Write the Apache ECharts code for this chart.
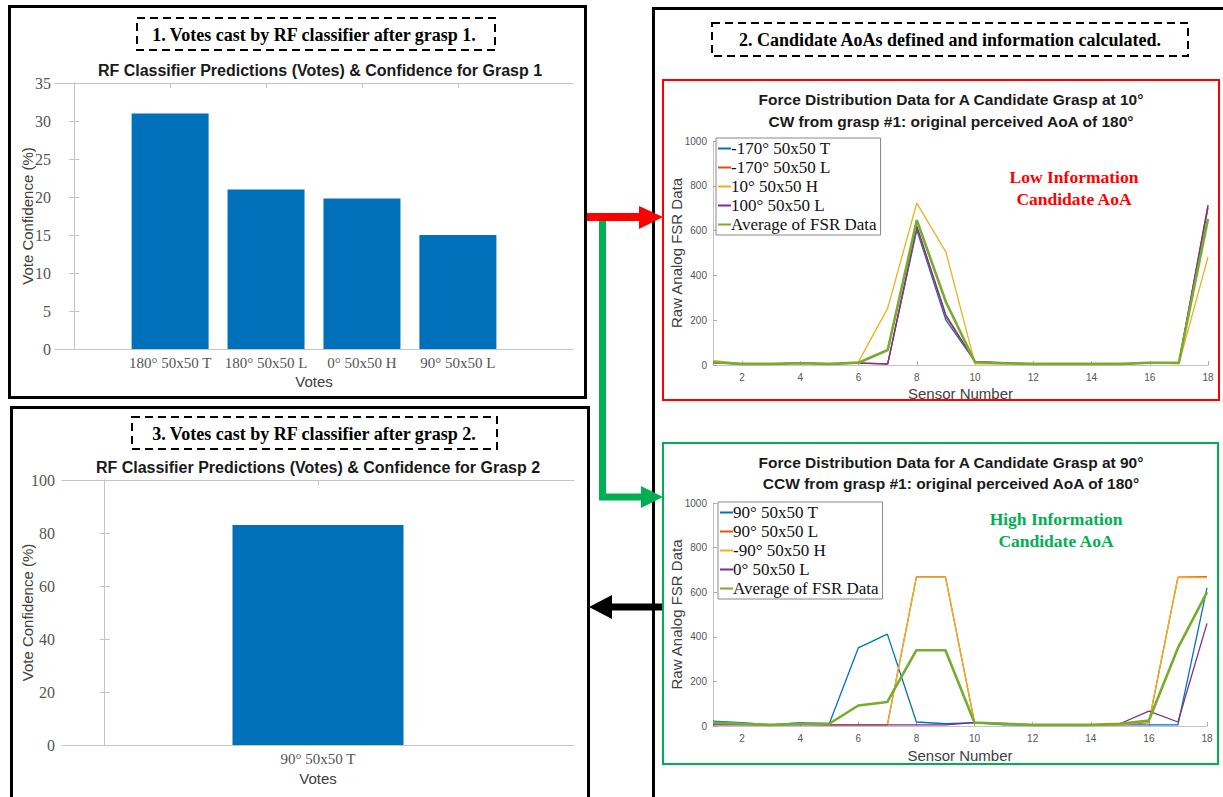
<!DOCTYPE html>
<html>
<head>
<meta charset="utf-8">
<script src="https://cdn.jsdelivr.net/npm/echarts@6/dist/echarts.min.js"></script>
<style>
html,body{margin:0;padding:0;background:#fff;}
#chart{width:1223px;height:797px;}
</style>
</head>
<body>
<div id="chart"></div>
<script>
// ---- Data ----
const voteCats1 = ['180° 50x50 T', '180° 50x50 L', '0° 50x50 H', '90° 50x50 L'];
const voteConf1 = [31, 21, 19.8, 15];
const voteTicks1 = [0, 5, 10, 15, 20, 25, 30, 35];

const voteCats2 = ['90° 50x50 T'];
const voteConf2 = [83];
const voteTicks2 = [0, 20, 40, 60, 80, 100];

const sensors = [1, 2, 3, 4, 5, 6, 7, 8, 9, 10, 11, 12, 13, 14, 15, 16, 17, 18];

const cwNames = ['-170° 50x50 T', '-170° 50x50 L', '10° 50x50 H', '100° 50x50 L', 'Average of FSR Data'];
const cw170T = [10, 5, 5, 8, 5, 8, 5, 603, 200, 15, 8, 5, 5, 5, 5, 8, 10, 700];
const cw170L = [12, 5, 5, 8, 5, 8, 5, 615, 215, 15, 8, 5, 5, 5, 5, 8, 10, 715];
const cw10H = [20, 5, 5, 10, 5, 15, 254, 723, 504, 5, 5, 5, 5, 5, 5, 8, 5, 482];
const cw100L = [10, 5, 5, 8, 5, 8, 5, 620, 223, 15, 10, 5, 5, 5, 5, 10, 10, 710];
const cwAvg = [12, 5, 5, 8, 5, 10, 67, 647, 281, 12, 8, 5, 5, 5, 5, 10, 10, 652];

const ccwNames = ['90° 50x50 T', '90° 50x50 L', '-90° 50x50 H', '0° 50x50 L', 'Average of FSR Data'];
const ccw90T = [22, 15, 5, 15, 10, 350, 412, 18, 10, 15, 5, 5, 5, 5, 5, 5, 5, 619];
const ccw90L = [10, 8, 5, 8, 5, 5, 5, 669, 669, 15, 12, 5, 5, 5, 5, 15, 668, 670];
const ccwM90H = [10, 8, 5, 8, 5, 5, 5, 668, 668, 15, 12, 5, 5, 5, 5, 20, 665, 666];
const ccw0L = [5, 5, 5, 5, 5, 5, 5, 5, 5, 15, 8, 5, 5, 5, 10, 67, 18, 460];
const ccwAvg = [15, 10, 5, 10, 10, 92, 108, 340, 340, 15, 10, 5, 5, 5, 10, 25, 350, 600];

const fsrTicks = [0, 200, 400, 600, 800, 1000];

// ---- Styles ----
const lineColors = ['#0072BD', '#D95319', '#EDB120', '#7E2F8E', '#77AC30'];
const barColor = '#0070BA';
const axisGrey = '#c4c4c4';
const labelGrey = '#555';
const sans = 'Liberation Sans, Arial, sans-serif';
const serif = 'Liberation Serif, serif';

const chart = echarts.init(document.getElementById('chart'), null, {renderer: 'svg'});

function barX(grid, cats, min, max, top, gap) {
  const pos = cats.map((_, i) => i + 1);
  return {
    type: 'value', gridIndex: grid, min: min, max: max, position: top ? 'top' : 'bottom',
    axisLine: {show: true, onZero: false, lineStyle: {color: axisGrey, width: 1}},
    axisTick: {show: true, inside: true, length: 5, customValues: pos, lineStyle: {color: axisGrey}},
    axisLabel: top ? {show: false} : {
      show: true, customValues: pos, margin: 6,
      formatter: v => cats[Math.round(v) - 1] || '',
      fontFamily: serif, fontSize: 15, color: labelGrey
    },
    splitLine: {show: false},
    name: top ? '' : 'Votes', nameLocation: 'middle', nameGap: gap, nameMoveOverlap: false,
    nameTextStyle: {fontFamily: sans, fontSize: 15, color: '#404040'}
  };
}
function barY(grid, ticks, right, margin, gap) {
  return {
    type: 'value', gridIndex: grid, min: ticks[0], max: ticks[ticks.length - 1],
    interval: ticks[1] - ticks[0], position: right ? 'right' : 'left',
    axisLine: {show: true, lineStyle: {color: axisGrey, width: 1}},
    axisTick: {show: true, inside: true, length: 5, lineStyle: {color: axisGrey}},
    axisLabel: right ? {show: false} : {show: true, margin: margin, fontFamily: serif, fontSize: 16, color: labelGrey},
    splitLine: {show: false},
    name: right ? '' : 'Vote Confidence (%)', nameLocation: 'middle', nameGap: gap, nameMoveOverlap: false,
    nameTextStyle: {fontFamily: sans, fontSize: 15, color: '#404040'}
  };
}
function lineX(grid, gap) {
  return {
    type: 'category', gridIndex: grid, data: sensors, boundaryGap: false,
    axisLine: {show: true, lineStyle: {color: axisGrey, width: 1}},
    axisTick: {show: true, inside: true, length: 4, interval: (i, v) => Number(v) % 2 === 0, lineStyle: {color: '#aaa'}},
    axisLabel: {show: true, interval: (i, v) => Number(v) % 2 === 0, margin: 7, fontFamily: sans, fontSize: 10, color: labelGrey},
    splitLine: {show: false},
    name: 'Sensor Number', nameLocation: 'middle', nameGap: gap, nameMoveOverlap: false,
    nameTextStyle: {fontFamily: sans, fontSize: 15, color: '#404040'}
  };
}
function lineY(grid) {
  return {
    type: 'value', gridIndex: grid, min: fsrTicks[0], max: fsrTicks[fsrTicks.length - 1],
    interval: fsrTicks[1] - fsrTicks[0],
    axisLine: {show: true, lineStyle: {color: axisGrey, width: 1}},
    axisTick: {show: true, inside: true, length: 4, lineStyle: {color: '#aaa'}},
    axisLabel: {show: true, margin: 6, fontFamily: sans, fontSize: 10, color: labelGrey, formatter: v => String(v)},
    splitLine: {show: false},
    name: 'Raw Analog FSR Data', nameLocation: 'middle', nameGap: 29, nameMoveOverlap: false,
    nameTextStyle: {fontFamily: sans, fontSize: 15, color: '#404040'}
  };
}
function lineSeries(name, data, idx, axis) {
  return {
    type: 'line', name: name, data: data, xAxisIndex: axis, yAxisIndex: axis,
    symbol: 'none', silent: true, animation: false,
    lineStyle: {color: lineColors[idx], width: idx === 4 ? 2.6 : 1.3},
    itemStyle: {color: lineColors[idx]}, z: 2 + idx
  };
}
function legend(names, left, top) {
  return {
    data: names, orient: 'vertical', left: left, top: top,
    icon: 'rect', itemWidth: 13, itemHeight: 2, itemGap: 2,
    padding: [2, 4, 2, 2],
    backgroundColor: '#fff', borderColor: '#888', borderWidth: 1,
    textStyle: {fontFamily: serif, fontSize: 17, color: '#111', padding: [0, 0, 0, -5]},
    selectedMode: false, z: 10
  };
}
function gText(text, x, y, font, fill, extra) {
  return {
    type: 'text', x: x, y: y, z: 20,
    style: Object.assign({
      text: text, fill: fill, align: 'center', verticalAlign: 'middle',
      textAlign: 'center', textVerticalAlign: 'middle',
      fontFamily: font.family, fontSize: font.size, fontWeight: font.weight
    }, extra || {})
  };
}
const stepFont = {family: serif, size: 18, weight: 'bold'};
const barTitleFont = {family: sans, size: 16, weight: 'bold'};
const lineTitleFont = {family: sans, size: 15.5, weight: 'bold'};
const annFont = {family: serif, size: 17.5, weight: 'bold'};

const option = {
  backgroundColor: '#fff',
  animation: false,
  grid: [
    {left: 55, top: 83, width: 518, height: 266},
    {left: 62, top: 480, width: 512, height: 265},
    {left: 713, top: 141, width: 495, height: 224},
    {left: 713, top: 503, width: 494, height: 223}
  ],
  xAxis: [
    barX(0, voteCats1, -0.2, voteCats1.length + 1.2, false, 25),
    barX(0, voteCats1, -0.2, voteCats1.length + 1.2, true, 0),
    barX(1, voteCats2, -0.2, voteCats2.length + 1.2, false, 26),
    barX(1, voteCats2, -0.2, voteCats2.length + 1.2, true, 0),
    lineX(2, 21),
    lineX(3, 22)
  ],
  yAxis: [
    barY(0, voteTicks1, false, 4, 20),
    barY(0, voteTicks1, true, 0, 0),
    barY(1, voteTicks2, false, 7, 27),
    barY(1, voteTicks2, true, 0, 0),
    lineY(2),
    lineY(3)
  ],
  legend: [legend(cwNames, 716, 138), legend(ccwNames, 718, 502)],
  series: [
    {type: 'bar', name: 'Grasp 1 votes', data: voteConf1.map((v, i) => [i + 1, v]), xAxisIndex: 0, yAxisIndex: 0,
     barWidth: 77, itemStyle: {color: barColor}, silent: true},
    {type: 'bar', name: 'Grasp 2 votes', data: voteConf2.map((v, i) => [i + 1, v]), xAxisIndex: 2, yAxisIndex: 2,
     barWidth: 171, itemStyle: {color: barColor}, silent: true},
    lineSeries(cwNames[0], cw170T, 0, 4),
    lineSeries(cwNames[1], cw170L, 1, 4),
    lineSeries(cwNames[2], cw10H, 2, 4),
    lineSeries(cwNames[3], cw100L, 3, 4),
    lineSeries(cwNames[4], cwAvg, 4, 4),
    lineSeries(ccwNames[0], ccw90T, 0, 5),
    lineSeries(ccwNames[1], ccw90L, 1, 5),
    lineSeries(ccwNames[2], ccwM90H, 2, 5),
    lineSeries(ccwNames[3], ccw0L, 3, 5),
    lineSeries(ccwNames[4], ccwAvg, 4, 5)
  ],
  graphic: [
    // panel frames
    {type: 'rect', shape: {x: 9.5, y: 6.5, width: 576, height: 391}, style: {fill: null, stroke: '#000', lineWidth: 3}, z: 1},
    {type: 'rect', shape: {x: 11.5, y: 407.5, width: 577, height: 420}, style: {fill: null, stroke: '#000', lineWidth: 3}, z: 1},
    {type: 'rect', shape: {x: 653.5, y: 8.5, width: 620, height: 850}, style: {fill: null, stroke: '#000', lineWidth: 3}, z: 1},
    {type: 'rect', shape: {x: 663, y: 80, width: 556, height: 320}, style: {fill: null, stroke: '#FF0000', lineWidth: 2}, z: 1},
    {type: 'rect', shape: {x: 663, y: 443, width: 555, height: 321}, style: {fill: null, stroke: '#00B050', lineWidth: 2}, z: 1},
    // dashed step boxes
    {type: 'rect', shape: {x: 137, y: 18, width: 358, height: 32}, style: {fill: '#fff', stroke: '#000', lineWidth: 2, lineDash: [8, 5]}, z: 15},
    {type: 'rect', shape: {x: 132, y: 417, width: 365, height: 32}, style: {fill: '#fff', stroke: '#000', lineWidth: 2, lineDash: [8, 5]}, z: 15},
    {type: 'rect', shape: {x: 712, y: 23, width: 476, height: 33}, style: {fill: '#fff', stroke: '#000', lineWidth: 2, lineDash: [8, 5]}, z: 15},
    gText('1. Votes cast by RF classifier after grasp 1.', 314, 35, stepFont, '#000'),
    gText('3. Votes cast by RF classifier after grasp 2.', 314, 434, stepFont, '#000'),
    gText('2. Candidate AoAs defined and information calculated.', 950, 40, stepFont, '#000'),
    // chart titles
    gText('RF Classifier Predictions (Votes) & Confidence for Grasp 1', 320, 70, barTitleFont, '#1a1a1a'),
    gText('RF Classifier Predictions (Votes) & Confidence for Grasp 2', 318, 467, barTitleFont, '#1a1a1a'),
    gText('Force Distribution Data for A Candidate Grasp at 10°', 951, 99, lineTitleFont, '#1a1a1a'),
    gText('CW from grasp #1: original perceived AoA of 180°', 951, 121, lineTitleFont, '#1a1a1a'),
    gText('Force Distribution Data for A Candidate Grasp at 90°', 951, 462, lineTitleFont, '#1a1a1a'),
    gText('CCW from grasp #1: original perceived AoA of 180°', 951, 483, lineTitleFont, '#1a1a1a'),
    // annotations
    gText('Low Information\nCandidate AoA', 1074, 188, annFont, '#FF0000', {lineHeight: 22}),
    gText('High Information\nCandidate AoA', 1056, 530, annFont, '#00B050', {lineHeight: 22}),
    // arrows
    {type: 'polyline', shape: {points: [[602.5, 214], [602.5, 497], [643, 497]]}, style: {stroke: '#00B050', lineWidth: 7, fill: null, lineJoin: 'miter'}, z: 16},
    {type: 'polygon', shape: {points: [[641, 486], [663, 497], [641, 508]]}, style: {fill: '#00B050'}, z: 16},
    {type: 'line', shape: {x1: 587, y1: 217, x2: 641, y2: 217}, style: {stroke: '#FF0000', lineWidth: 8}, z: 17},
    {type: 'polygon', shape: {points: [[639, 206], [663, 217], [639, 229]]}, style: {fill: '#FF0000'}, z: 17},
    {type: 'line', shape: {x1: 662, y1: 607, x2: 610, y2: 607}, style: {stroke: '#000', lineWidth: 7}, z: 16},
    {type: 'polygon', shape: {points: [[612, 595], [589, 607], [612, 619]]}, style: {fill: '#000'}, z: 16}
  ]
};
chart.setOption(option);
</script>
</body>
</html>
